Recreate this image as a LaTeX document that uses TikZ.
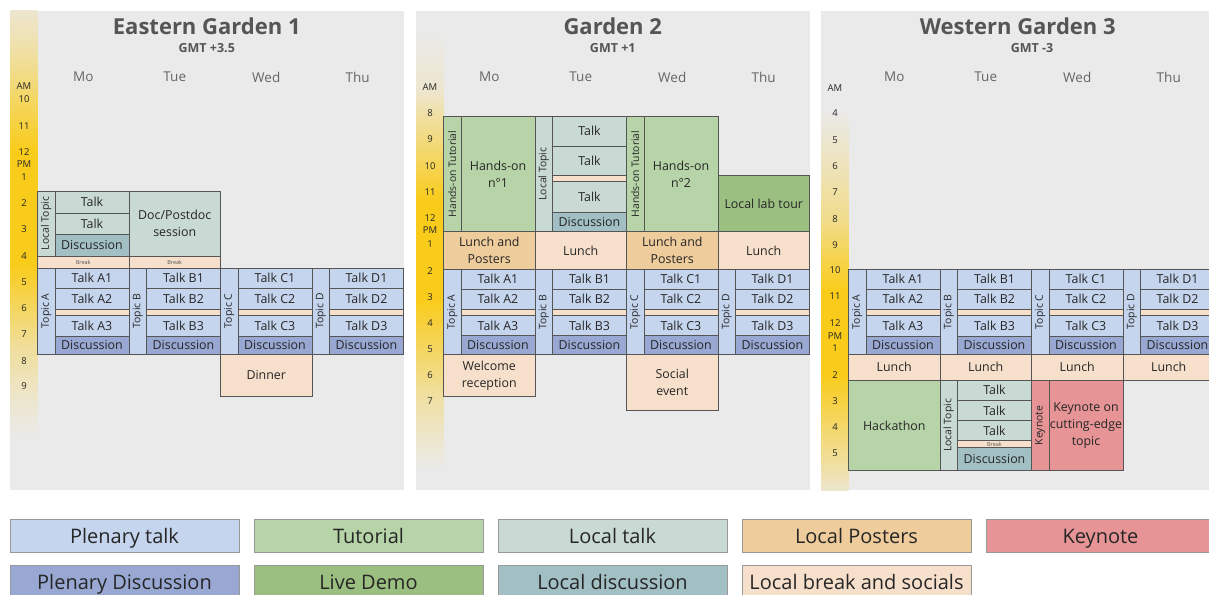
\documentclass[tikz,border=0pt]{standalone}
\usepackage{fontspec}
\setmainfont{Open Sans}
\definecolor{panelc}{HTML}{EAEAEA}
\definecolor{bordc}{HTML}{555555}
\definecolor{txtc}{HTML}{262626}
\definecolor{titc}{HTML}{555555}
\definecolor{dayc}{HTML}{666666}
\definecolor{plen}{HTML}{C5D5EE}
\definecolor{plend}{HTML}{98A8D3}
\definecolor{tut}{HTML}{B7D4A8}
\definecolor{demo}{HTML}{9BBF80}
\definecolor{ltalk}{HTML}{C9D9D3}
\definecolor{ldisc}{HTML}{A2BFC3}
\definecolor{post}{HTML}{EFCC9C}
\definecolor{soc}{HTML}{F7E0CB}
\definecolor{key}{HTML}{E69496}
\definecolor{gold}{HTML}{F9CC1C}
\definecolor{cream}{HTML}{EDE6CE}
\definecolor{ltyel}{HTML}{F1DC8C}
\tikzset{
  blk/.style={draw=bordc, line width=0.7pt, inner sep=0pt, outer sep=0pt, align=center,
    font=\fontsize{12.4}{17}\selectfont, text=txtc},
  plenbox/.style={fill=plen}, plendbox/.style={fill=plend},
  tutbox/.style={fill=tut}, demobox/.style={fill=demo},
  ltbox/.style={fill=ltalk}, ldbox/.style={fill=ldisc},
  postbox/.style={fill=post}, socbox/.style={fill=soc}, keybox/.style={fill=key},
  vlab/.style={rotate=90, inner sep=0pt, font=\fontsize{10.4}{12}\selectfont, text=txtc},
  brk/.style={font=\fontsize{5.5}{6}\selectfont, text=titc},
  hour/.style={inner sep=0pt, font=\fontsize{9.5}{11}\selectfont, text=txtc},
  title/.style={inner sep=0pt, font=\fontsize{22}{26}\bfseries\selectfont, text=titc},
  gmt/.style={inner sep=0pt, font=\fontsize{12.5}{14}\bfseries\selectfont, text=titc},
  day/.style={inner sep=0pt, font=\fontsize{13.5}{16}\selectfont, text=dayc},
  legbox/.style={draw=gray!80, line width=0.7pt, inner sep=0pt, outer sep=0pt,
    minimum width=229, minimum height=33.5, anchor=north west,
    text height=15pt, text depth=0pt,
    font=\fontsize{20}{24}\selectfont, text=txtc},
}
% name, x1, y1, x2, y2, style, text
\newcommand\blk[7]{\node[blk,#6,anchor=north west,minimum width={#4-#2},minimum height={#5-#3}] (#1) at (#2,#3) {#7};}
\newcommand\seg[4]{\shade[top color=#3, bottom color=#4] (0,#1) rectangle (27.5,#2);}
% prefix, top, a1end, a2end, stripend, a3end, bottom
\newcommand\topics[7]{%
  \foreach \L/\cx in {A/27.5,B/119,C/210.5,D/302} {
    \pgfmathsetmacro\xa{\cx+17.5}\pgfmathsetmacro\xb{\cx+91.5}
    \blk{#1t\L}{\cx}{#2}{\xa}{#7}{plenbox}{}
    \node[vlab] at (#1t\L.center) {Topic \L};
    \blk{#1\L1}{\xa}{#2}{\xb}{#3}{plenbox}{Talk \L1}
    \blk{#1\L2}{\xa}{#3}{\xb}{#4}{plenbox}{Talk \L2}
    \blk{#1\L s}{\xa}{#4}{\xb}{#5}{socbox}{}
    \blk{#1\L3}{\xa}{#5}{\xb}{#6}{plenbox}{Talk \L3}
    \blk{#1\L d}{\xa}{#6}{\xb}{#7}{plendbox}{Discussion}
  }}
\newcommand\days[1]{%
  \node[day] (#1mo) at (73.25,77) {Mo};
  \node[day] (#1tu) at (164.75,77) {Tue};
  \node[day] (#1we) at (256.25,77) {Wed};
  \node[day] (#1th) at (347.75,77) {Thu};}
\begin{document}
\begin{tikzpicture}[x=1pt,y=-1pt]
\useasboundingbox (0,0) rectangle (1209,594);
\clip (0,0) rectangle (1209,594);
\fill[white] (0,0) rectangle (1209,594);

% ================= Panel 1 =================
\begin{scope}[xshift=10]
\fill[panelc] (0,11) rectangle (393.5,490);
\seg{11}{50}{cream}{ltyel!60!cream}
\seg{50}{150}{ltyel!60!cream}{gold}
\seg{150}{265}{gold}{gold}
\seg{265}{345}{gold}{ltyel!80!cream}
\seg{345}{400}{ltyel!80!cream}{cream}
\seg{400}{440}{cream}{panelc}
\node[title] (t1) at (196.75,26) {Eastern Garden 1};
\node[gmt] (g1) at (196.75,48) {GMT +3.5};
\days{e}
\foreach \t/\y [count=\i] in {AM/86,10/99,11/126,12/152,PM/164,1/177,2/203,3/229,4/256,5/282,6/308,7/334,8/361,9/386}
  \node[hour] (eh\i) at (14,\y) {\t};
\blk{ea}{27.5}{191}{45}{256}{ltbox}{}
\node[vlab] at (ea.center) {Local Topic};
\blk{eb}{45}{191}{119}{213}{ltbox}{Talk}
\blk{ec}{45}{213}{119}{234}{ltbox}{Talk}
\blk{ed}{45}{234}{119}{256}{ldbox}{Discussion}
\blk{ee}{27.5}{256}{119}{268}{socbox}{}
\node[brk] at (ee.center) {Break};
\blk{ef}{119}{191}{210.5}{256}{ltbox}{Doc/Postdoc\\session}
\blk{eg}{119}{256}{210.5}{268}{socbox}{}
\node[brk] at (eg.center) {Break};
\topics{e}{268}{288}{309}{315}{336}{354}
\blk{eh}{210.5}{354}{302}{396}{socbox}{Dinner}
\end{scope}

% ================= Panel 2 =================
\begin{scope}[xshift=416]
\fill[panelc] (0,11) rectangle (393.5,490);
\seg{30}{90}{panelc}{cream}
\seg{90}{200}{cream}{gold}
\seg{200}{300}{gold}{gold}
\seg{300}{400}{gold}{ltyel!60!cream}
\seg{400}{470}{ltyel!60!cream}{panelc}
\node[title] (t2) at (196.75,26) {Garden 2};
\node[gmt] (g2) at (196.75,48) {GMT +1};
\days{g}
\foreach \t/\y [count=\i] in {AM/87,8/113,9/139,10/166,11/192,12/218,PM/230,1/244,2/271,3/297,4/323,5/349,6/375,7/401}
  \node[hour] (gh\i) at (14,\y) {\t};
\blk{ga}{27.5}{116.3}{45}{231.7}{tutbox}{}
\node[vlab] at (ga.center) {Hands-on Tutorial};
\blk{gb}{45}{116.3}{119}{231.7}{tutbox}{Hands-on\\n°1}
\blk{gc}{119}{116.3}{136.5}{231.7}{ltbox}{}
\node[vlab] at (gc.center) {Local Topic};
\blk{gd}{136.5}{116.3}{210.5}{146}{ltbox}{Talk}
\blk{ge}{136.5}{146}{210.5}{175.7}{ltbox}{Talk}
\blk{gf}{136.5}{175.7}{210.5}{181.7}{socbox}{}
\blk{gg}{136.5}{181.7}{210.5}{212}{ltbox}{Talk}
\blk{gh}{136.5}{212}{210.5}{231.7}{ldbox}{Discussion}
\blk{gi}{210.5}{116.3}{228}{231.7}{tutbox}{}
\node[vlab] at (gi.center) {Hands-on Tutorial};
\blk{gj}{228}{116.3}{302}{231.7}{tutbox}{Hands-on\\n°2}
\blk{gk}{302}{175}{393.5}{231.7}{demobox}{Local lab tour}
\blk{gl}{27.5}{231.7}{119}{269.3}{postbox}{Lunch and\\Posters}
\blk{gm}{119}{231.7}{210.5}{269.3}{socbox}{Lunch}
\blk{gn}{210.5}{231.7}{302}{269.3}{postbox}{Lunch and\\Posters}
\blk{go}{302}{231.7}{393.5}{269.3}{socbox}{Lunch}
\topics{g}{269.3}{289}{309}{315.5}{335.7}{354.7}
\blk{gp}{27.5}{354.7}{119}{396.7}{socbox}{Welcome\\reception}
\blk{gq}{210.5}{354.7}{302}{410.7}{socbox}{Social\\event}
\end{scope}

% ================= Panel 3 =================
\begin{scope}[xshift=821]
\fill[panelc] (0,11) rectangle (393.5,490);
\seg{110}{220}{panelc}{ltyel}
\seg{220}{290}{ltyel}{gold}
\seg{290}{375}{gold}{gold}
\seg{375}{470}{gold}{ltyel!55!cream}
\seg{470}{490}{ltyel!55!cream}{cream}
\node[title] (t3) at (196.75,26) {Western Garden 3};
\node[gmt] (g3) at (211,48) {GMT -3};
\days{w}
\foreach \t/\y [count=\i] in {AM/88,4/113,5/140,6/166,7/192,8/219,9/245,10/270,11/296,12/322.7,PM/335.7,1/348.3,2/375,3/401,4/427.3,5/453.3}
  \node[hour] (wh\i) at (14,\y) {\t};
\topics{w}{269.3}{289}{309.3}{315.7}{336}{354.3}
\blk{wl1}{27.5}{354.3}{119}{380}{socbox}{Lunch}
\blk{wl2}{119}{354.3}{210.5}{380}{socbox}{Lunch}
\blk{wl3}{210.5}{354.3}{302}{380}{socbox}{Lunch}
\blk{wl4}{302}{354.3}{393.5}{380}{socbox}{Lunch}
\blk{wa}{27.5}{380}{119}{470.7}{tutbox}{Hackathon}
\blk{wb}{119}{380}{136.5}{470.7}{ltbox}{}
\node[vlab] at (wb.center) {Local Topic};
\blk{wc}{136.5}{380}{210.5}{400.3}{ltbox}{Talk}
\blk{wd}{136.5}{400.3}{210.5}{420.7}{ltbox}{Talk}
\blk{we}{136.5}{420.7}{210.5}{440.7}{ltbox}{Talk}
\blk{wf}{136.5}{440.7}{210.5}{447.7}{socbox}{}
\node[brk] at (wf.center) {Break};
\blk{wg}{136.5}{447.7}{210.5}{470.7}{ldbox}{Discussion}
\blk{wk}{210.5}{380}{228}{470.7}{keybox}{}
\node[vlab] at (wk.center) {Keynote};
\blk{wm}{228}{380}{302}{470.7}{keybox}{Keynote on\\cutting-edge\\topic}
\end{scope}

% ================= Legend =================
\node[legbox,fill=plen]  (lg1) at (10,519) {Plenary talk};
\node[legbox,fill=tut]   (lg2) at (254,519) {Tutorial};
\node[legbox,fill=ltalk] (lg3) at (498,519) {Local talk};
\node[legbox,fill=post]  (lg4) at (742,519) {Local Posters};
\node[legbox,fill=key]   (lg5) at (986,519) {Keynote};
\node[legbox,fill=plend] (lg6) at (10,565) {Plenary Discussion};
\node[legbox,fill=demo]  (lg7) at (254,565) {Live Demo};
\node[legbox,fill=ldisc] (lg8) at (498,565) {Local discussion};
\node[legbox,fill=soc]   (lg9) at (742,565) {Local break and socials};
\end{tikzpicture}
\end{document}
